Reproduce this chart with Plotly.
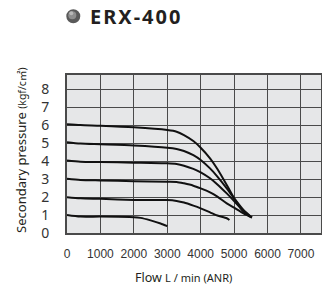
import plotly.graph_objects as go

# Data
flow_6 = [0, 400, 1000, 2000, 3000, 3280, 3500, 3780, 4000, 4280, 4500, 4780, 5000, 5280, 5530]
press_6 = [6.05, 6.0, 5.96, 5.87, 5.72, 5.63, 5.44, 5.11, 4.74, 4.15, 3.56, 2.67, 1.93, 1.19, 0.86]

flow_5 = [0, 400, 1000, 2000, 3000, 3280, 3500, 3780, 4000, 4280, 4500, 4780, 5000, 5280, 5530]
press_5 = [5.05, 4.97, 4.93, 4.86, 4.74, 4.67, 4.56, 4.33, 4.06, 3.59, 3.13, 2.48, 1.93, 1.28, 0.86]

flow_4 = [0, 400, 1000, 2000, 3000, 3280, 3500, 3780, 4000, 4280, 4500, 4780, 5000, 5280, 5530]
press_4 = [4.03, 3.96, 3.94, 3.91, 3.87, 3.83, 3.74, 3.56, 3.37, 3.04, 2.7, 2.2, 1.78, 1.22, 0.86]

flow_3 = [0, 400, 1000, 2000, 3000, 3280, 3500, 3780, 4000, 4280, 4500, 4780, 5000, 5280, 5530]
press_3 = [3.02, 2.95, 2.92, 2.88, 2.85, 2.84, 2.76, 2.63, 2.48, 2.26, 2.02, 1.65, 1.41, 1.09, 0.86]

flow_2 = [0, 400, 1000, 2000, 3000, 3280, 3500, 3780, 4000, 4280, 4500, 4780, 4860]
press_2 = [1.99, 1.93, 1.9, 1.84, 1.83, 1.78, 1.69, 1.52, 1.37, 1.15, 0.97, 0.82, 0.72]

flow_1 = [0, 400, 1000, 2000, 2200, 2500, 2800, 3000]
press_1 = [1.0, 0.91, 0.91, 0.88, 0.84, 0.7, 0.53, 0.38]

x_ticks = [0, 1000, 2000, 3000, 4000, 5000, 6000, 7000]
y_ticks = [0, 1, 2, 3, 4, 5, 6, 7, 8]

title_text = "ERX-400"
y_title = "Secondary pressure"
y_unit = "(kgf/c㎡)"
x_title = "Flow"
x_unit = "L / min (ANR)"

series = [(flow_6, press_6), (flow_5, press_5), (flow_4, press_4),
          (flow_3, press_3), (flow_2, press_2), (flow_1, press_1)]

fig = go.Figure()
for fx, py in series:
    fig.add_trace(go.Scatter(x=fx, y=py, mode="lines",
                             line=dict(color="#111111", width=2, shape="spline", smoothing=0.7),
                             showlegend=False, hoverinfo="skip"))

grid_col = "#4a4a4a"
fig.update_layout(
    width=322, height=290,
    margin=dict(l=66.7, r=1, t=74.7, b=57.3, pad=0, autoexpand=False),
    paper_bgcolor="white",
    plot_bgcolor="#e6e7e8",
    xaxis=dict(range=[0, 7600], tickvals=x_ticks, ticktext=[str(v) for v in x_ticks],
               showgrid=True, gridcolor=grid_col, gridwidth=1.3,
               showline=True, linecolor=grid_col, linewidth=2, mirror=True,
               zeroline=False, ticks="", ticklabelstandoff=9, automargin=False,
               tickfont=dict(family="Liberation Sans Narrow, Liberation Sans, sans-serif",
                             size=12, color="#333333"),
               fixedrange=True),
    yaxis=dict(range=[0, 8.78], tickvals=y_ticks, ticktext=[str(v) for v in y_ticks],
               showgrid=True, gridcolor=grid_col, gridwidth=1.3,
               showline=True, linecolor=grid_col, linewidth=2, mirror=True,
               zeroline=False, ticks="", ticklabelstandoff=13, automargin=False,
               tickfont=dict(family="Noto Sans, sans-serif", size=14, color="#333333"),
               fixedrange=True),
)

# Title bullet (sphere-like)
fig.add_shape(type="circle", xref="paper", yref="paper", xsizemode="pixel", ysizemode="pixel",
              xanchor=0.0248, yanchor=1.372, x0=-7, x1=7, y0=-7, y1=7,
              fillcolor="#5a5a5a", line=dict(width=0))
fig.add_shape(type="circle", xref="paper", yref="paper", xsizemode="pixel", ysizemode="pixel",
              xanchor=0.0248, yanchor=1.372, x0=-5, x1=3, y0=-3, y1=5,
              fillcolor="#8e8e8e", line=dict(width=0))
fig.add_shape(type="circle", xref="paper", yref="paper", xsizemode="pixel", ysizemode="pixel",
              xanchor=0.0248, yanchor=1.372, x0=-4, x1=0, y0=1, y1=5,
              fillcolor="#b8b8b8", line=dict(width=0))

spaced_title = "\u200a".join(title_text)
fig.add_annotation(x=0.0838, y=1.372, xref="paper", yref="paper", xanchor="left", yanchor="middle",
                   text="<b>" + spaced_title + "</b>", showarrow=False,
                   font=dict(family="Noto Sans, sans-serif", size=20, color="#231f20"))

fig.add_annotation(x=-0.1836, y=0.522, xref="paper", yref="paper", xanchor="center", yanchor="middle",
                   textangle=-90, showarrow=False,
                   text=y_title + " <span style='font-size:10.5px'>" + y_unit + "</span>",
                   font=dict(family="Noto Sans, Noto Sans CJK JP, sans-serif", size=13, color="#231f20"))

fig.add_annotation(x=0.46, y=-0.284, xref="paper", yref="paper", xanchor="center", yanchor="middle",
                   showarrow=False,
                   text=x_title + " <span style='font-size:11px'>" + x_unit + "</span>",
                   font=dict(family="Noto Sans, sans-serif", size=12.5, color="#231f20"))

fig.write_html("out.html", config={"displayModeBar": False},
               post_script="document.body.style.margin='0';document.body.style.padding='0';")
